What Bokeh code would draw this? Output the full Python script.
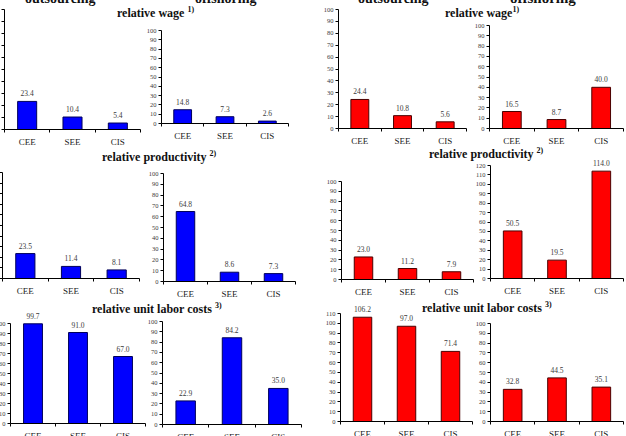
from bokeh.plotting import figure
from bokeh.models import Range1d, FixedTicker, Div, Column, ColumnDataSource, LabelSet
from bokeh.core.properties import value
from bokeh.embed import file_html
from bokeh.resources import INLINE

# Regions shown on every panel
categories = ["CEE", "SEE", "CIS"]

# Blue block: outsourcing (left) and offshoring (right)
blue_out_wage = [23.4, 10.4, 5.4]
blue_off_wage = [14.8, 7.3, 2.6]
blue_out_prod = [23.5, 11.4, 8.1]
blue_off_prod = [64.8, 8.6, 7.3]
blue_out_ulc = [99.7, 91.0, 67.0]
blue_off_ulc = [22.9, 84.2, 35.0]

# Red block: outsourcing (left) and offshoring (right)
red_out_wage = [24.4, 10.8, 5.6]
red_off_wage = [16.5, 8.7, 40.0]
red_out_prod = [23.0, 11.2, 7.9]
red_off_prod = [50.5, 19.5, 114.0]
red_out_ulc = [106.2, 97.0, 71.4]
red_off_ulc = [32.8, 44.5, 35.1]

FONT = "Liberation Serif"
BLUE, BLUE_EDGE = "#0000ff", "#00005a"
RED, RED_EDGE = "#ff0000", "#4a0000"

# borders around each plotting frame (px); HEAD is free room above the top tick
ML, MR, MT, MB = 28, 6, 4, 30
HEAD = 16


def bar_panel(values, fill, edge, ymax, left, right, top, zero):
    """One small bar chart: axis spans left..right and, vertically, top (ymax) .. zero."""
    fw = round(right - left)
    fh = round(zero - top)
    y_end = ymax + HEAD * ymax / fh
    xs = [i + 0.5 for i in range(len(categories))]
    src = ColumnDataSource(data=dict(x=xs, top=values,
                                     label=[f"{v:.1f}" for v in values]))
    p = figure(width=fw + ML + MR, height=fh + HEAD + MT + MB,
               x_range=Range1d(0, len(categories)), y_range=Range1d(0, y_end),
               output_backend="svg", toolbar_location=None,
               min_border_left=ML, min_border_right=MR,
               min_border_top=MT, min_border_bottom=MB,
               background_fill_color=None, border_fill_color=None,
               outline_line_color=None,
               styles={"position": "absolute",
                       "left": f"{round(left) - ML}px",
                       "top": f"{round(top) - HEAD - MT}px"})
    p.vbar(x="x", top="top", bottom=0, width=0.42, source=src,
           fill_color=fill, line_color=edge, line_width=1)
    p.add_layout(LabelSet(x="x", y="top", text="label", source=src,
                          text_align="center", text_baseline="bottom",
                          y_offset=5, text_font=value(FONT),
                          text_font_size="7.5px", text_color="#3a3a3a"))
    p.xgrid.visible = False
    p.ygrid.visible = False

    xa = p.xaxis[0]
    xa.ticker = FixedTicker(ticks=xs, minor_ticks=list(range(len(categories) + 1)))
    xa.major_label_overrides = {x: c for x, c in zip(xs, categories)}
    xa.major_tick_line_color = None
    xa.major_tick_in = 0
    xa.major_tick_out = 0
    xa.minor_tick_in = 0
    xa.minor_tick_out = 3
    xa.minor_tick_line_color = "black"
    xa.axis_line_color = "black"
    xa.major_label_text_font = FONT
    xa.major_label_text_font_size = "9px"
    xa.major_label_text_color = "#1a1a1a"
    xa.major_label_standoff = 4

    ya = p.yaxis[0]
    ya.bounds = (0, ymax)
    ya.ticker = FixedTicker(ticks=list(range(0, ymax + 1, 10)))
    ya.major_tick_in = 0
    ya.major_tick_out = 3
    ya.major_tick_line_color = "black"
    ya.minor_tick_line_color = None
    ya.axis_line_color = "black"
    ya.major_label_text_font = FONT
    ya.major_label_text_font_size = "6.5px"
    ya.major_label_text_color = "#3a3a3a"
    ya.major_label_standoff = 2
    return p


def heading(text, sup, left, baseline, size):
    lh = size
    top = baseline - round(size * 0.84)
    sup_html = ""
    if sup:
        sup_html = f'<span style="font-size:8px;position:relative;top:-5px;">{sup}</span>'
    html = (f'<span style="font-family:\'{FONT}\';font-weight:bold;font-size:{size}px;'
            f'line-height:{lh}px;white-space:nowrap;color:#111;">{text}{sup_html}</span>')
    width = round(len(text) * size * 0.47) + (10 if sup else 0)
    return Div(text=html, width=width, height=lh,
               styles={"position": "absolute", "left": f"{left}px", "top": f"{top}px",
                       "font-family": FONT, "font-weight": "bold",
                       "font-size": f"{size}px", "line-height": f"{lh}px",
                       "margin": "0", "padding": "0", "white-space": "nowrap"})


panels = [
    # values, fill, edge, ymax, axis left, axis right, y of top tick, y of zero
    bar_panel(blue_out_wage, BLUE, BLUE_EDGE, 100, 4, 140, 9, 129),
    bar_panel(blue_off_wage, BLUE, BLUE_EDGE, 100, 161, 288, 30, 123),
    bar_panel(red_out_wage, RED, RED_EDGE, 100, 338, 466, 9, 128),
    bar_panel(red_off_wage, RED, RED_EDGE, 100, 489, 623, 25, 128),
    bar_panel(blue_out_prod, BLUE, BLUE_EDGE, 100, 2, 139, 172, 278),
    bar_panel(blue_off_prod, BLUE, BLUE_EDGE, 100, 163, 295, 173, 281),
    bar_panel(red_out_prod, RED, RED_EDGE, 100, 341, 473, 181, 279),
    bar_panel(red_off_prod, RED, RED_EDGE, 120, 490, 623, 165, 278),
    bar_panel(blue_out_ulc, BLUE, BLUE_EDGE, 100, 10, 145, 323, 423),
    bar_panel(blue_off_ulc, BLUE, BLUE_EDGE, 100, 162, 301, 321, 424),
    bar_panel(red_out_ulc, RED, RED_EDGE, 110, 340, 472, 313, 421),
    bar_panel(red_off_ulc, RED, RED_EDGE, 100, 490, 623, 323, 421),
]

headings = [
    heading("outsourcing", "", 25, 4, 14),
    heading("offshoring", "", 195, 4, 14),
    heading("outsourcing", "", 358, 4, 14),
    heading("offshoring", "", 510, 4, 15),
    heading("relative wage ", "1)", 117, 17, 12),
    heading("relative wage", "1)", 445, 17, 12),
    heading("relative productivity ", "2)", 102, 161, 12),
    heading("relative productivity ", "2)", 429, 158, 12),
    heading("relative unit labor costs ", "3)", 92, 313, 12),
    heading("relative unit labor costs ", "3)", 422, 312, 12),
]

page = Column(children=panels + headings, width=626, height=436, sizing_mode="fixed",
              styles={"position": "relative", "overflow": "hidden",
                      "background-color": "white"})

open("out.html", "w").write(file_html(page, INLINE))
